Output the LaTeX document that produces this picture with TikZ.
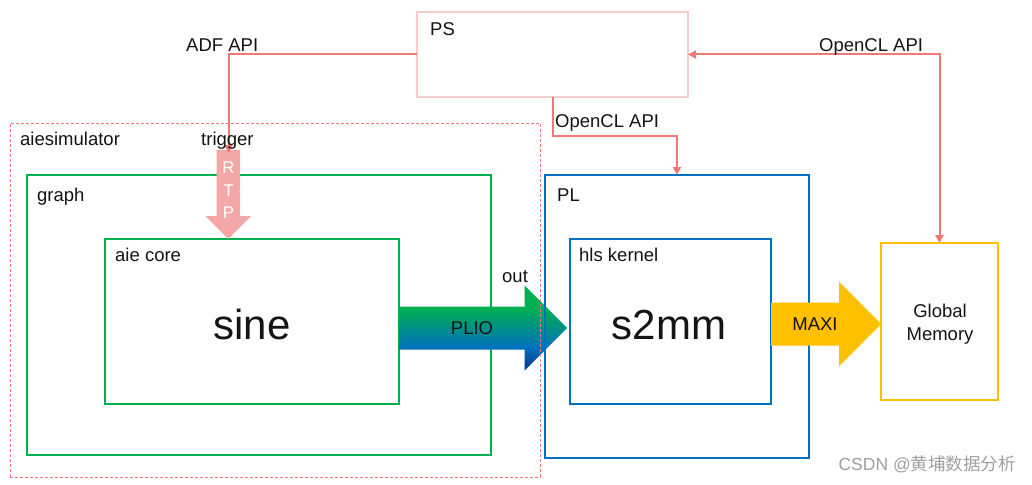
\documentclass[tikz,border=0pt]{standalone}
\usepackage{fontspec}
\setmainfont{Liberation Sans}
\newfontfamily\cjk{Noto Sans CJK SC}
\usetikzlibrary{arrows.meta,calc}
\definecolor{cgreen}{RGB}{0,176,80}
\definecolor{cblue}{RGB}{0,112,192}
\definecolor{cnavy}{RGB}{0,48,130}
\definecolor{cyellow}{RGB}{255,192,0}
\definecolor{pspink}{RGB}{248,204,204}
\definecolor{dashred}{RGB}{236,120,120}
\definecolor{redline}{RGB}{240,120,120}
\definecolor{rtpfill}{RGB}{244,167,167}
\definecolor{txt}{RGB}{20,20,20}
\definecolor{wm}{RGB}{160,160,160}
\pgfdeclareverticalshading{plio}{100bp}{color(0bp)=(cnavy); color(25bp)=(cnavy); color(38bp)=(cblue); color(62bp)=(cgreen); color(100bp)=(cgreen)}
\tikzset{
  frame/.style={inner sep=0pt, outer sep=0pt, line width=2.5pt},
  lbl/.style={font=\fontsize{18.5}{22}\selectfont, text=txt, inner sep=0pt},
  big/.style={font=\fontsize{42}{48}\selectfont, text=txt, inner sep=0pt},
  api/.style={draw=redline, line width=2pt},
  tip/.style={-{Triangle[length=8pt,width=8pt]}},
  dtip/.style={{Triangle[length=8pt,width=8pt]}-{Triangle[length=8pt,width=8pt]}}
}
\begin{document}
\begin{tikzpicture}[x=1pt,y=-1pt]
\useasboundingbox[fill=white] (0,0) rectangle (1032,484);

% boxes
\node[frame, draw=pspink, minimum width=271pt, minimum height=85pt] (PS) at (552.5,54.5) {};
\node[frame, draw=cgreen, minimum width=464pt, minimum height=280pt] (graph) at (259,315) {};
\node[frame, draw=cgreen, minimum width=294pt, minimum height=165pt] (aie) at (252,321.5) {};

% PLIO arrow
\shade[shading=plio] (399,306.5) -- (524.5,306.5) -- (524.5,285.5) -- (567,328) -- (524.5,370.5) -- (524.5,349.5) -- (399,349.5) -- cycle;

\node[frame, draw=dashred, line width=0.9pt, dash pattern=on 3pt off 2pt, minimum width=530pt, minimum height=354pt] (sim) at (275,300) {};
\node[frame, draw=cblue, minimum width=264pt, minimum height=283pt] (PL) at (677,316.5) {};
\node[frame, draw=cblue, minimum width=201pt, minimum height=165pt] (hls) at (670.5,321.5) {};
\node[frame, draw=cyellow, minimum width=117pt, minimum height=157pt] (GM) at (939.5,321.5) {};

% MAXI arrow
\fill[cyellow] (771,302.5) -- (839,302.5) -- (839,281.5) -- (881,324) -- (839,366.5) -- (839,345.5) -- (771,345.5) -- cycle;

% RTP arrow
\fill[rtpfill] (216.5,150) -- (240,150) -- (240,216) -- (251,216) -- (228.3,239) -- (205.5,216) -- (216.5,216) -- cycle;
\node[font=\fontsize{17}{22}\selectfont, text=white, inner sep=0pt, anchor=base] (R) at (228.5,173) {R};
\node[font=\fontsize{17}{22}\selectfont, text=white, inner sep=0pt, anchor=base] (T) at (228.5,196) {T};
\node[font=\fontsize{17}{22}\selectfont, text=white, inner sep=0pt, anchor=base] (P) at (228.5,218) {P};

% connectors
\coordinate (trig) at (228.5,153);
\coordinate (oc) at (552.5,136);
\draw[api, tip] (PS.west) -| (trig);
\draw[api, tip] (PS.south) -- (oc) -| (PL.north);
\draw[api, dtip] (PS.east) -| (GM.north);

% labels
\node[lbl, anchor=base west] (lps) at (430,36) {PS};
\node[lbl, anchor=base west] (ladf) at (186,52) {ADF API};
\node[lbl, anchor=base west] (locl1) at (819,52) {OpenCL API};
\node[lbl, anchor=base west] (locl2) at (555,127) {OpenCL API};
\node[lbl, anchor=base west] (lsim) at (20,145) {aiesimulator};
\node[lbl, anchor=base west] (ltrig) at (201,145) {trigger};
\node[lbl, anchor=base west] (lgraph) at (37,201) {graph};
\node[lbl, anchor=base west] (laie) at (115,261) {aie core};
\node[lbl, anchor=base west] (lpl) at (557,201) {PL};
\node[lbl, anchor=base west] (lhls) at (579,261) {hls kernel};
\node[lbl, anchor=base west] (lout) at (502,282) {out};
\node[lbl, anchor=base] (lplio) at (472,334) {PLIO};
\node[lbl, anchor=base] (lmaxi) at (815,330) {MAXI};
\node[lbl, anchor=base] (lg1) at (940,317) {Global};
\node[lbl, anchor=base] (lg2) at (940,340) {Memory};
\node[big, anchor=base] (lsine) at (252,339) {sine};
\node[big, anchor=base] (ls2mm) at (669,339) {s2mm};
\node[font=\fontsize{17.5}{21}\selectfont, text=wm, inner sep=0pt, anchor=base east] (wmk) at (1016,470) {CSDN @{\cjk 黄埔数据分析}};
\end{tikzpicture}
\end{document}
